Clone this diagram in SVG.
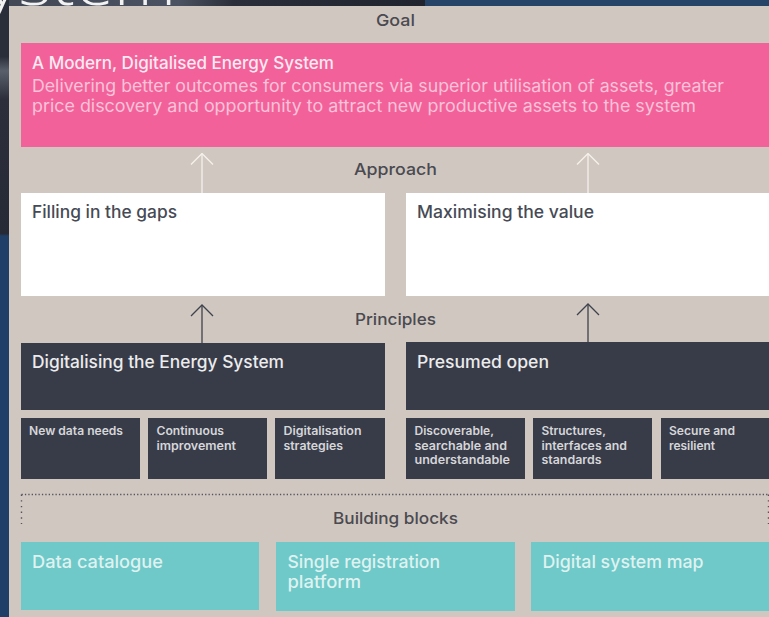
<svg xmlns="http://www.w3.org/2000/svg" width="769" height="617" viewBox="0 0 769 617">
<defs>
<linearGradient id="bgL" x1="0" y1="0" x2="0" y2="1"><stop offset="0" stop-color="#2a2e3a"/><stop offset="0.24" stop-color="#2a2e3a"/><stop offset="0.3" stop-color="#59606c"/><stop offset="0.42" stop-color="#2c2f3b"/><stop offset="0.99" stop-color="#262936"/><stop offset="1" stop-color="#1f3f68"/></linearGradient>
<linearGradient id="bgT" x1="0" y1="0" x2="1" y2="0"><stop offset="0" stop-color="#414755"/><stop offset="0.42" stop-color="#4b5261"/><stop offset="0.55" stop-color="#2a2e3a"/><stop offset="1" stop-color="#20242f"/></linearGradient>
<marker id="open" viewBox="0 0 13 24" refX="12" refY="12" markerWidth="13" markerHeight="24" markerUnits="userSpaceOnUse" orient="auto"><path d="M1 1L12 12L1 23" fill="none" stroke="context-stroke" stroke-width="1.3"/></marker>
</defs>
<style>
text{font-family:"Inter","Open Sans","Liberation Sans",sans-serif}
.h{font-size:16.500px;font-weight:500;fill:#4a4a50}
.t{font-size:17px;font-weight:500}
.s{font-size:11.500px;font-weight:600;fill:#d6d6d9}
.b{font-size:17px;font-weight:400;fill:#fbc3d9}
.dark{fill:#383c49}.white{fill:#fff}.teal{fill:#6ec9c8}
.tt{font-size:17.500px;font-weight:500;fill:#dff2f1}
</style>
<rect width="769" height="617" fill="#1f3f68"/>
<rect width="425" height="6" fill="url(#bgT)"/>
<rect x="425" width="344" height="6" fill="#264468"/>
<rect width="9" height="236" fill="url(#bgL)"/>
<text x="-14" y="5" font-size="62" fill="#f2f2f2" textLength="190" lengthAdjust="spacingAndGlyphs" style="font-family:'Open Sans',sans-serif;font-weight:300">ystem</text>
<rect x="9" y="6" width="760" height="611" fill="#d0c7c1"/>
<g id="labels">
<text class="h" x="376" y="26" textLength="39" lengthAdjust="spacingAndGlyphs">Goal</text>
<text class="h" x="354" y="175" textLength="83" lengthAdjust="spacingAndGlyphs">Approach</text>
<text class="h" x="355" y="325" textLength="81" lengthAdjust="spacingAndGlyphs">Principles</text>
<text class="h" x="333" y="524" textLength="125" lengthAdjust="spacingAndGlyphs">Building blocks</text>
</g>
<g id="goal">
<rect x="21" y="43" width="748" height="104" fill="#f3619a"/>
<text class="t" x="32" y="69" fill="#fdeaf2" textLength="302" lengthAdjust="spacingAndGlyphs">A Modern, Digitalised Energy System</text>
<text class="b" x="32" y="92" textLength="692" lengthAdjust="spacingAndGlyphs">Delivering better outcomes for consumers via superior utilisation of assets, greater</text>
<text class="b" x="32" y="112" textLength="664" lengthAdjust="spacingAndGlyphs">price discovery and opportunity to attract new productive assets to the system</text>
</g>
<g id="approach-1"><rect class="white" x="21" y="193" width="364" height="103"/><text class="t" x="32" y="218" fill="#464a55" textLength="145" lengthAdjust="spacingAndGlyphs">Filling in the gaps</text></g>
<g id="approach-2"><rect class="white" x="406" y="193" width="363" height="103"/><text class="t" x="417" y="218" fill="#464a55" textLength="177" lengthAdjust="spacingAndGlyphs">Maximising the value</text></g>
<g id="principle-1"><rect class="dark" x="21" y="343" width="364" height="67"/><text class="t" x="32" y="368" fill="#ececed" textLength="252" lengthAdjust="spacingAndGlyphs">Digitalising the Energy System</text></g>
<g id="principle-2"><rect class="dark" x="406" y="342" width="363" height="68"/><text class="t" x="417" y="368" fill="#ececed" textLength="132" lengthAdjust="spacingAndGlyphs">Presumed open</text></g>
<g id="p1a"><rect class="dark" x="21" y="418" width="119" height="61"/><text class="s" x="29" y="435" textLength="94" lengthAdjust="spacingAndGlyphs">New data needs</text></g>
<g id="p1b"><rect class="dark" x="148" y="418" width="119" height="61"/><text class="s" x="156.500" y="435" textLength="67.500" lengthAdjust="spacingAndGlyphs">Continuous</text><text class="s" x="156.500" y="450" textLength="79.500" lengthAdjust="spacingAndGlyphs">improvement</text></g>
<g id="p1c"><rect class="dark" x="275" y="418" width="110" height="61"/><text class="s" x="283.500" y="435" textLength="78" lengthAdjust="spacingAndGlyphs">Digitalisation</text><text class="s" x="283.500" y="450" textLength="59.500" lengthAdjust="spacingAndGlyphs">strategies</text></g>
<g id="p2a"><rect class="dark" x="406" y="418" width="119" height="61"/><text class="s" x="414.500" y="435" textLength="79.500" lengthAdjust="spacingAndGlyphs">Discoverable,</text><text class="s" x="414.500" y="450" textLength="92.500" lengthAdjust="spacingAndGlyphs">searchable and</text><text class="s" x="414.500" y="464" textLength="95.500" lengthAdjust="spacingAndGlyphs">understandable</text></g>
<g id="p2b"><rect class="dark" x="533" y="418" width="119" height="61"/><text class="s" x="541.500" y="435" textLength="64.500" lengthAdjust="spacingAndGlyphs">Structures,</text><text class="s" x="541.500" y="450" textLength="85.500" lengthAdjust="spacingAndGlyphs">interfaces and</text><text class="s" x="541.500" y="464" textLength="60" lengthAdjust="spacingAndGlyphs">standards</text></g>
<g id="p2c"><rect class="dark" x="661" y="418" width="108" height="61"/><text class="s" x="669" y="435" textLength="66" lengthAdjust="spacingAndGlyphs">Secure and</text><text class="s" x="669" y="450" textLength="46" lengthAdjust="spacingAndGlyphs">resilient</text></g>
<g id="block-1"><rect class="teal" x="21" y="542" width="238" height="68"/><text class="tt" x="32" y="568" textLength="131" lengthAdjust="spacingAndGlyphs">Data catalogue</text></g>
<g id="block-2"><rect class="teal" x="276" y="542" width="239" height="69"/><text class="tt" x="287.500" y="568" textLength="152.500" lengthAdjust="spacingAndGlyphs">Single registration</text><text class="tt" x="287.500" y="588" textLength="73.500" lengthAdjust="spacingAndGlyphs">platform</text></g>
<g id="block-3"><rect class="teal" x="531" y="542" width="238" height="69"/><text class="tt" x="542.500" y="568" textLength="161" lengthAdjust="spacingAndGlyphs">Digital system map</text></g>
<g id="connectors" fill="none">
<path d="M202 193V153.500" stroke="#f6f1ec" stroke-width="1.300" marker-end="url(#open)"/>
<path d="M588 193V153.500" stroke="#f6f1ec" stroke-width="1.300" marker-end="url(#open)"/>
<path d="M202 343V305" stroke="#3f424d" stroke-width="1.300" marker-end="url(#open)"/>
<path d="M588 342V304" stroke="#3f424d" stroke-width="1.300" marker-end="url(#open)"/>
<path d="M21.500 494.500H768.500" stroke="#55545a" stroke-width="1.300" stroke-dasharray="1.300 2.100"/>
<path d="M21.500 494.500V524M768.500 494.500V524" stroke="#55545a" stroke-width="1.400" stroke-dasharray="1.400 4.300"/>
</g>
</svg>
